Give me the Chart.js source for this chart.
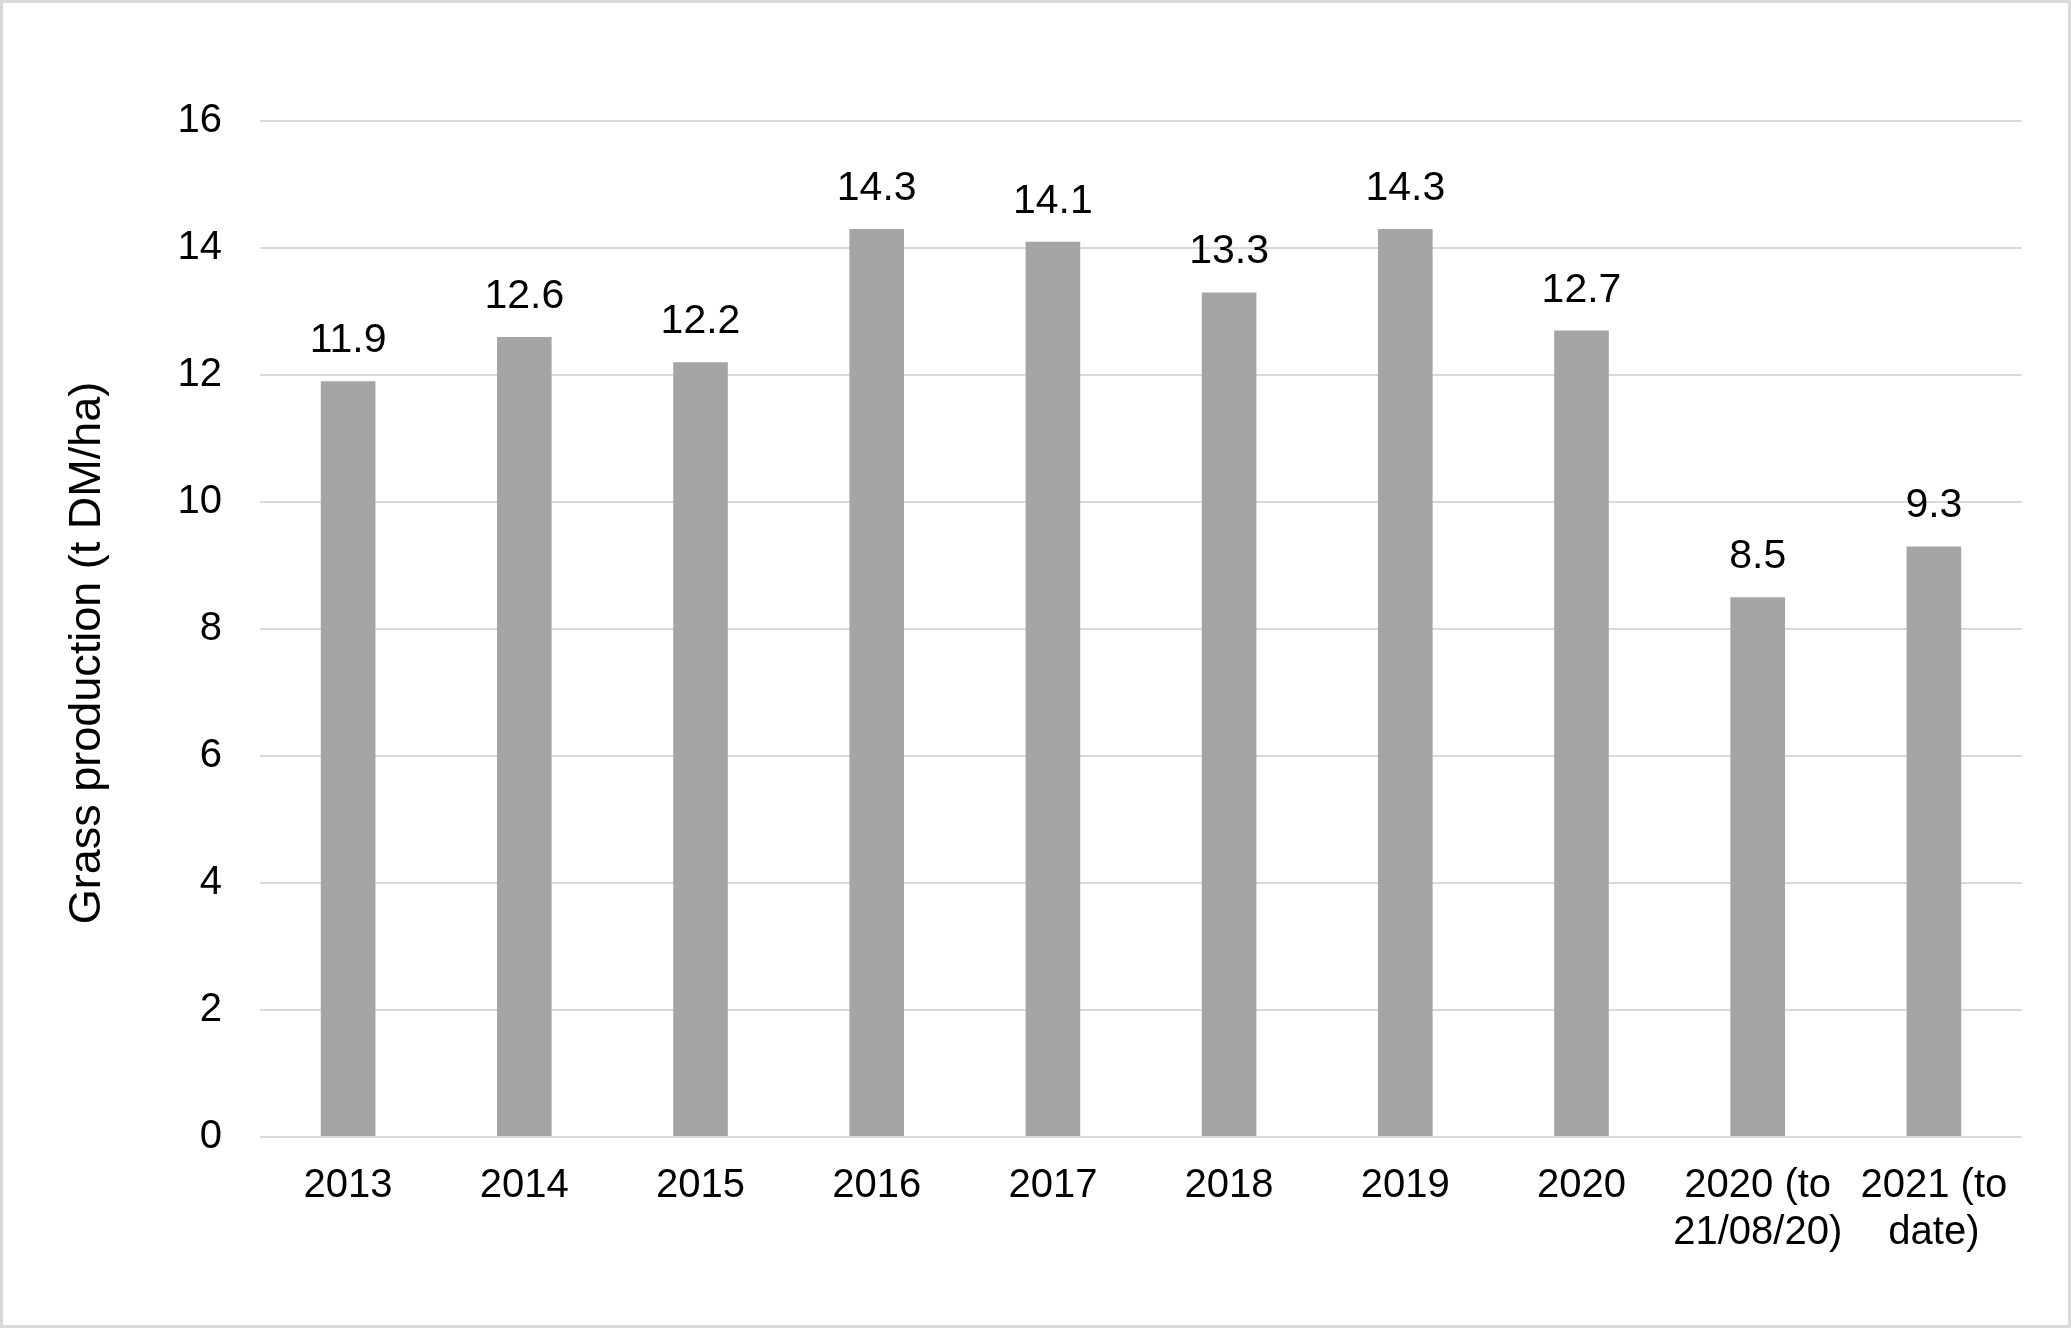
<!DOCTYPE html>
<html>
<head>
<meta charset="utf-8">
<script src="https://cdn.jsdelivr.net/npm/chart.js@4.4.0/dist/chart.umd.min.js"></script>
<style>
  html, body { margin: 0; padding: 0; background: #fff; }
  #marco {
    box-sizing: border-box;
    width: 2071px; height: 1328px;
    border: 3px solid #d9d9d9;
    background: #fff;
  }
  #grafica { display: block; }
</style>
</head>
<body>
<div id="marco"><canvas id="grafica" width="2065" height="1322"></canvas></div>
<script>
const anios = ['2013', '2014', '2015', '2016', '2017', '2018', '2019', '2020',
  ['2020 (to', '21/08/20)'], ['2021 (to', 'date)']];
const produccion = [11.9, 12.6, 12.2, 14.3, 14.1, 13.3, 14.3, 12.7, 8.5, 9.3];
const ticksY = [0, 2, 4, 6, 8, 10, 12, 14, 16];
const tituloY = 'Grass production (t DM/ha)';

const fuente = 'Liberation Sans, Arial, sans-serif';

// Etiquetas de valor encima de cada barra
const etiquetasValor = {
  id: 'etiquetasValor',
  afterDatasetsDraw(chart) {
    const ctx = chart.ctx;
    const meta = chart.getDatasetMeta(0);
    ctx.save();
    ctx.font = '41px ' + fuente;
    ctx.fillStyle = '#000';
    ctx.textAlign = 'center';
    ctx.textBaseline = 'alphabetic';
    meta.data.forEach((barra, i) => {
      ctx.fillText(produccion[i].toFixed(1), barra.x, barra.y - 29);
    });
    ctx.restore();
  }
};

// Título del eje Y (un poco por debajo del centro, como en el original)
const tituloEje = {
  id: 'tituloEje',
  afterDraw(chart) {
    const ctx = chart.ctx;
    const area = chart.chartArea;
    ctx.save();
    ctx.translate(85, (area.top + area.bottom) / 2 + 24);
    ctx.rotate(-Math.PI / 2);
    ctx.font = '45px ' + fuente;
    ctx.fillStyle = '#000';
    ctx.textAlign = 'center';
    ctx.textBaseline = 'middle';
    ctx.fillText(tituloY, 0, 0);
    ctx.restore();
  }
};

new Chart(document.getElementById('grafica').getContext('2d'), {
  type: 'bar',
  data: {
    labels: anios,
    datasets: [{
      label: 'Grass production',
      data: produccion,
      backgroundColor: '#a5a5a5',
      borderWidth: 0,
      barPercentage: 0.62,
      categoryPercentage: 0.5
    }]
  },
  options: {
    responsive: false,
    animation: false,
    layout: { padding: { top: 118, right: 46, left: 0, bottom: 0 } },
    plugins: {
      legend: { display: false },
      tooltip: { enabled: false }
    },
    scales: {
      x: {
        grid: { display: false, drawTicks: false },
        border: { display: false },
        ticks: {
          color: '#000',
          font: { family: fuente, size: 40, lineHeight: 1.17 },
          padding: 26,
          maxRotation: 0,
          autoSkip: false
        },
        afterFit: scale => { scale.height = 188; }
      },
      y: {
        min: 0,
        max: 16,
        afterBuildTicks: scale => { scale.ticks = ticksY.map(v => ({ value: v })); },
        grid: { color: '#d9d9d9', lineWidth: 2, drawTicks: false },
        border: { display: false },
        ticks: {
          color: '#000',
          font: { family: fuente, size: 40 },
          padding: 38
        },
        afterFit: scale => { scale.width = 257; }
      }
    }
  },
  plugins: [etiquetasValor, tituloEje]
});
</script>
</body>
</html>
